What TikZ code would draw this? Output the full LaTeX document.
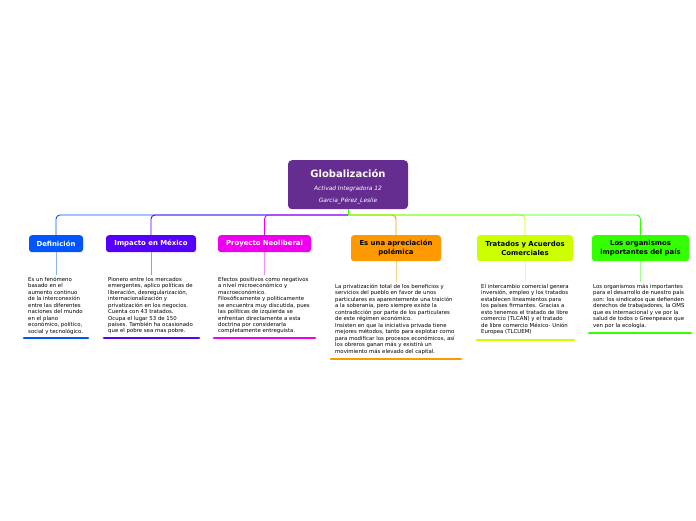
\documentclass[tikz,border=0pt]{standalone}
\usepackage{fontspec}
\setmainfont{DejaVu Sans}
\definecolor{cRoot}{RGB}{102,45,145}
\definecolor{cDef}{RGB}{0,85,255}
\definecolor{cImp}{RGB}{85,0,255}
\definecolor{cPro}{RGB}{238,0,238}
\definecolor{cApr}{RGB}{255,153,0}
\definecolor{cTra}{RGB}{204,255,0}
\definecolor{cOrg}{RGB}{51,255,0}
\tikzset{
 topic/.style={fill=#1, rounded corners=3pt, inner sep=0pt, anchor=north,
   font=\fontsize{6.9}{8.8}\selectfont\bfseries, align=center},
 note/.style={anchor=north west, inner sep=0pt, align=left,
   font=\fontsize{5.4}{6.45}\selectfont},
 link/.style={draw=#1, line width=0.9pt, rounded corners=4pt},
 stub/.style={draw=#1!45, line width=0.7pt},
 uline/.style={draw=#1, line width=2.8pt, line cap=round},
}
\begin{document}
\begin{tikzpicture}[x=1pt,y=-1pt]
\useasboundingbox (0,0) rectangle (696,520);
% root
\node[fill=cRoot, rounded corners=4pt, minimum width=120pt, minimum height=49pt, inner sep=0pt, anchor=north, text=white, align=center] (root) at (348,160)
 {{\fontsize{10}{12}\selectfont\bfseries\rule{0pt}{11.5pt}Globalización}\\[1pt]
  {\fontsize{5.9}{9.5}\selectfont\itshape Activad Integradora 12}\\
  {\fontsize{5.9}{9.5}\selectfont\itshape Garcia\_Pérez\_Leslie}};
\coordinate (hub) at (348,215);
% topics
\node[topic=cDef, text=white, minimum width=54pt, minimum height=17pt] (def) at (56,235) {Definición};
\node[topic=cImp, text=white, minimum width=90pt, minimum height=17pt] (imp) at (151,235) {Impacto en México};
\node[topic=cPro, text=white, minimum width=93pt, minimum height=17pt] (pro) at (264.5,235) {Proyecto Neoliberal};
\node[topic=cApr, text=black, minimum width=90pt, minimum height=26pt] (apr) at (396,235) {Es una apreciación\\polémica};
\node[topic=cTra, text=black, minimum width=96pt, minimum height=26pt] (tra) at (525,235) {Tratados y Acuerdos\\Comerciales};
\node[topic=cOrg, text=black, minimum width=97pt, minimum height=26pt] (org) at (640.5,235) {Los organismos\\importantes del país};
% links
\draw[link=cDef] (hub) -| (def.north);
\draw[link=cImp] (hub) -| (imp.north);
\draw[link=cPro] (hub) -| (pro.north);
\draw[link=cApr] (hub) -| (apr.north);
\draw[link=cTra] (hub) -| (tra.north);
\draw[link=cOrg] (hub) -| (org.north);
\draw[draw=cOrg, line width=0.9pt] (root.south) -- (hub);
% notes
\node[note] (defN) at (28,277) {Es un fenómeno\\basado en el\\aumento continuo\\de la interconexión\\entre las diferentes\\naciones del mundo\\en el plano\\económico, político,\\social y tecnológico.};
\node[note] (impN) at (108,277) {Pionero entre los mercados\\emergentes, aplico políticas de\\liberación, desregularización,\\internacionalización y\\privatización en los negocios.\\Cuenta con 43 tratados.\\Ocupa el lugar 53 de 150\\países. También ha ocasionado\\que el pobre sea mas pobre.};
\node[note] (proN) at (218,277) {Efectos positivos como negativos\\a nivel microeconómico y\\macroeconómico.\\Filosóficamente y politicamente\\se encuentra muy discutida, pues\\las políticas de izquierda se\\enfrentan directamente a esta\\doctrina por considerarla\\completamente entreguista.};
\node[note] (aprN) at (335,284) {La privatización total de los beneficios y\\servicios del pueblo en favor de unos\\particulares es aparentemente una traición\\a la soberanía, pero siempre existe la\\contradicción por parte de los particulares\\de este régimen económico.\\Insisten en que la iniciativa privada tiene\\mejores métodos, tanto para explotar como\\para modificar los procesos económicos, así\\los obreros ganan más y existirá un\\movimiento más elevado del capital.};
\node[note] (traN) at (481,284) {El intercambio comercial genera\\inversión, empleo y los tratados\\establecen lineamientos para\\los países firmantes. Gracias a\\esto tenemos el tratado de libre\\comercio (TLCAN) y el tratado\\de libre comercio México- Unión\\Europea (TLCUEM)};
\node[note] (orgN) at (593,284) {Los organismos más importantes\\para el desarrollo de nuestro país\\son: los sindicatos que defienden\\derechos de trabajadores, la OMS\\que es internacional y ve por la\\salud de todos o Greenpeace que\\ven por la ecología.};
% stubs
\coordinate (defE) at (56,275);
\coordinate (impE) at (151,275);
\coordinate (proE) at (264.5,275);
\coordinate (aprE) at (396,282);
\coordinate (traE) at (525,282);
\coordinate (orgE) at (640.5,282);
\draw[stub=cDef] (def.south) -- (defE);
\draw[stub=cImp] (imp.south) -- (impE);
\draw[stub=cPro] (pro.south) -- (proE);
\draw[stub=cApr] (apr.south) -- (aprE);
\draw[stub=cTra] (tra.south) -- (traE);
\draw[stub=cOrg] (org.south) -- (orgE);
% underlines
\coordinate (defL) at (24,338); \coordinate (defR) at (88,338);
\coordinate (impL) at (104,338); \coordinate (impR) at (199,338);
\coordinate (proL) at (214,338); \coordinate (proR) at (315,338);
\coordinate (aprL) at (331,359); \coordinate (aprR) at (461,359);
\coordinate (traL) at (477,340); \coordinate (traR) at (574,340);
\coordinate (orgL) at (589,333); \coordinate (orgR) at (691,333);
\draw[uline=cDef] (defL) -- (defR);
\draw[uline=cImp] (impL) -- (impR);
\draw[uline=cPro] (proL) -- (proR);
\draw[uline=cApr] (aprL) -- (aprR);
\draw[uline=cTra] (traL) -- (traR);
\draw[uline=cOrg] (orgL) -- (orgR);
\end{tikzpicture}
\end{document}
